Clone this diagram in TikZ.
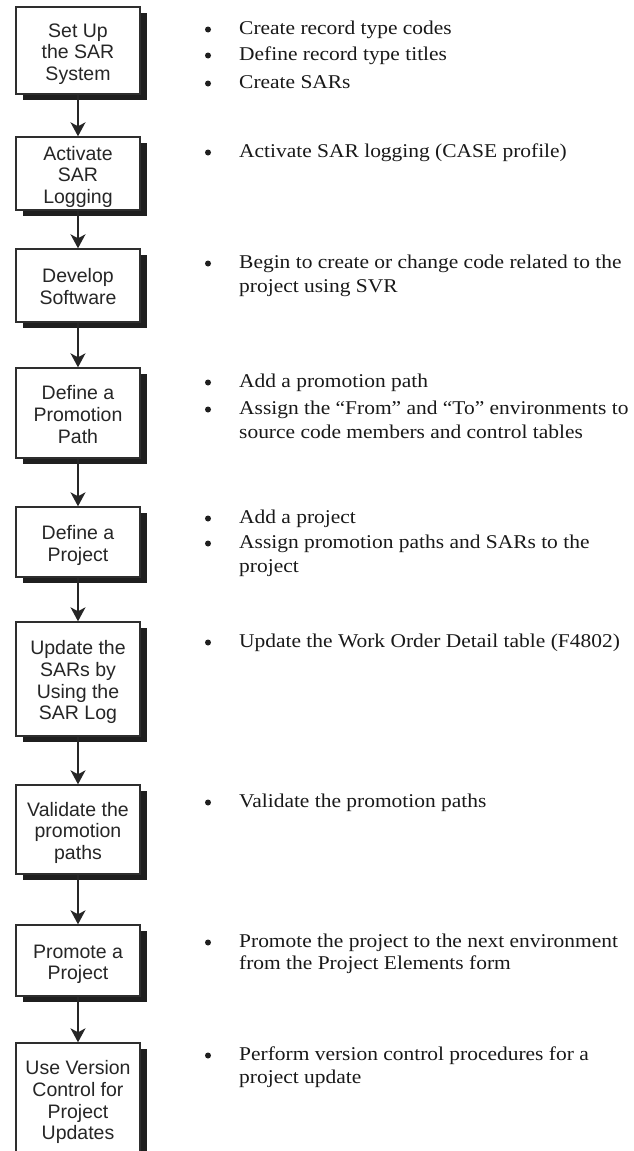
\documentclass[tikz,border=0pt]{standalone}
\usepackage{fontspec}
\setmainfont{Liberation Serif}[FakeStretch=1.1]
\newfontfamily\boxfont{Liberation Sans}
\usetikzlibrary{shadows,arrows.meta}
% stacked, centred box caption set a little below the geometric centre
\newcommand\boxlines[1]{\raisebox{-4pt}[\height][\depth]{\begin{tabular}{@{}c@{}}#1\end{tabular}}}

\begin{document}
\begin{tikzpicture}[x=1pt,y=-1pt,
  stepbox/.style={draw=black!82, line width=1.4pt, fill=white,
    minimum width=124pt, inner sep=0pt,
    font=\boxfont\fontsize{19.5}{21.7}\selectfont, text=black!85,
    drop shadow={shadow xshift=6.5pt, shadow yshift=-6pt, fill=black!88, opacity=1}},
  flow/.style={draw=black!85, line width=1.6pt,
    -{Stealth[length=14pt,width=15pt,inset=4pt,fill=black!85]}},
  dot/.style={circle, fill=black!88, inner sep=0pt, minimum size=6pt},
  item/.style={anchor=base west, inner sep=0pt, text=black!90,
    font=\fontsize{19.5}{24}\selectfont}]
\useasboundingbox (0,0) rectangle (634,1151);
\clip (0,0) rectangle (634,1151);
\fill[white] (0,0) rectangle (634,1151);

% process steps
\node[stepbox, minimum height=87pt]  (s1) at (78,50.5)  {\boxlines{Set Up\\the SAR\\System}};
\node[stepbox, minimum height=73pt]  (s2) at (78,173.5) {\boxlines{Activate\\SAR\\Logging}};
\node[stepbox, minimum height=73pt]  (s3) at (78,285.5) {\boxlines{Develop\\Software}};
\node[stepbox, minimum height=90pt]  (s4) at (78,413)   {\boxlines{Define a\\Promotion\\Path}};
\node[stepbox, minimum height=70pt]  (s5) at (78,542)   {\boxlines{Define a\\Project}};
\node[stepbox, minimum height=114pt] (s6) at (78,679)   {\boxlines{Update the\\SARs by\\Using the\\SAR Log}};
\node[stepbox, minimum height=89pt]  (s7) at (78,829.5) {\boxlines{Validate the\\promotion\\paths}};
\node[stepbox, minimum height=71pt]  (s8) at (78,960.5) {\boxlines{Promote a\\Project}};
\node[stepbox, minimum height=112pt] (s9) at (78,1099)  {\boxlines{Use Version\\Control for\\Project\\Updates}};

% connectors
\draw[flow] (s1.south) -- (s2.north);
\draw[flow] (s2.south) -- (s3.north);
\draw[flow] (s3.south) -- (s4.north);
\draw[flow] (s4.south) -- (s5.north);
\draw[flow] (s5.south) -- (s6.north);
\draw[flow] (s6.south) -- (s7.north);
\draw[flow] (s7.south) -- (s8.north);
\draw[flow] (s8.south) -- (s9.north);

% task bullets
\node[dot] (d1)  at (208,29.5)  {};
\node[item] (t1)  at (239,34.5)   {Create record type codes};
\node[dot] (d2)  at (208,55.5)  {};
\node[item] (t2)  at (239,60.5)   {Define record type titles};
\node[dot] (d3)  at (208,83.5)  {};
\node[item] (t3)  at (239,88.5)   {Create SARs};

\node[dot] (d4)  at (208,152.5) {};
\node[item] (t4)  at (239,157.5)  {Activate SAR logging (CASE profile)};

\node[dot] (d5)  at (208,263.5) {};
\node[item] (t5a) at (239,268.5)  {Begin to create or change code related to the};
\node[item] (t5b) at (239,292.5)  {project using SVR};

\node[dot] (d6)  at (208,382.5) {};
\node[item] (t6)  at (239,387.5)  {Add a promotion path};
\node[dot] (d7)  at (208,409.5) {};
\node[item] (t7a) at (239,414.5)  {Assign the “From” and “To” environments to};
\node[item] (t7b) at (239,438.5)  {source code members and control tables};

\node[dot] (d8)  at (208,518.5) {};
\node[item] (t8)  at (239,523.5)  {Add a project};
\node[dot] (d9)  at (208,543.5) {};
\node[item] (t9a) at (239,548.5)  {Assign promotion paths and SARs to the};
\node[item] (t9b) at (239,572.5)  {project};

\node[dot] (d10) at (208,642.5) {};
\node[item] (t10) at (239,647.5)  {Update the Work Order Detail table (F4802)};

\node[dot] (d11) at (208,802.5) {};
\node[item] (t11) at (239,807.5)  {Validate the promotion paths};

\node[dot] (d12) at (208,942.5) {};
\node[item] (t12a) at (239,947.5) {Promote the project to the next environment};
\node[item] (t12b) at (239,969.5) {from the Project Elements form};

\node[dot] (d13) at (208,1055.5) {};
\node[item] (t13a) at (239,1060.5) {Perform version control procedures for a};
\node[item] (t13b) at (239,1083.5) {project update};
\end{tikzpicture}
\end{document}
